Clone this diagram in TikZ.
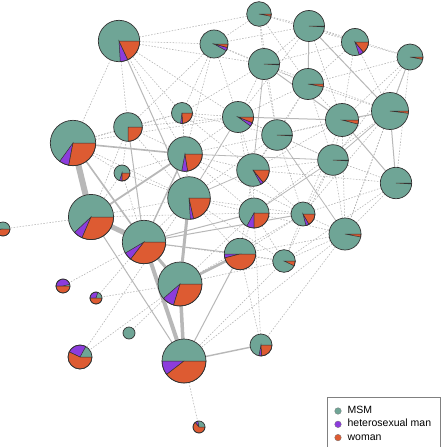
\documentclass[tikz,border=0pt]{standalone}
\usepackage{tikz}
\usepackage{xcolor}
\usepackage{fontspec}
\usetikzlibrary{positioning}
\newfontfamily\keyfont{Liberation Sans}
\definecolor{msmgreen}{RGB}{111,165,150}
\definecolor{hetpurple}{RGB}{140,60,220}
\definecolor{womanorange}{RGB}{221,91,50}
\pgfdeclarelayer{back}
\pgfsetlayers{back,main}

\begin{document}
\begin{tikzpicture}[x=1pt,y=1pt,
  pie/.style={circle,inner sep=0pt,outer sep=0pt},
  slice/.style={draw=black!80,line width=0.5pt},
  rim/.style={draw=black!80,line width=0.7pt},
  faint/.style={draw=black!30,line width=0.55pt,dash pattern=on 1.5pt off 1.5pt},
  tie/.style={draw=black!28,line width=#1pt},
  keydot/.style={circle,draw=black!55,line width=0.3pt,minimum size=6.6pt,inner sep=0pt},
  keytext/.style={inner sep=0pt,text height=1.2ex,text depth=0pt,
    font=\keyfont\fontsize{10.5}{12}\selectfont}]
  \useasboundingbox (0,0) rectangle (442,-447);
  % pies: name/x/y/radius/MSM share/heterosexual man share
  \foreach \n/\x/\y/\r/\g/\p in {
    v1/119/41/20.7/.76/.06, v2/259/14/12.3/.97/0, v3/309/26/15.5/.99/0,
    v4/214/44/14/.92/.04, v5/355/42/13.5/.80/.06, v6/410/57/13/.97/0,
    v7/264/64/15.5/.99/0, v8/308/84/15.5/.97/0, v9/390/111/18.5/.98/0,
    v10/128/127/14.3/.75/0, v11/182/113/10.5/.73/.03, v12/238/117/15.5/.90/.04,
    v13/277/135/15.3/.99/0, v14/342/120/16.5/.96/0, v15/73/143/22.7/.65/.07,
    v16/185/154/17.3/.72/.055, v17/122/173/8/.70/.05, v18/333/160/15.3/.99/0,
    v19/253/170/16.3/.83/.03, v20/189/198/21.3/.76/.025, v21/396/183/15.7/.99/0,
    v22/91/217/22.6/.62/.065, v23/303/214/12/.79/.045, v24/254/213/15/.67/.08,
    v25/345/234/16/.97/0, v26/3/229/7/.5/.02, v27/144/242/21.7/.585/.06,
    v28/240/254/15.7/.5/.04, v29/284/261/11.3/.93/0, v30/180/284/22/.614/.089,
    v31/63/286/7/.04/.46, v32/96/298/6/.2/.3, v33/129/333/6/1/0,
    v34/80/357/12/.17/.26, v35/261/345/11/.72/.04, v36/184/361/22/.5/.105,
    v37/199/427/6/.28/.08}{
    \node[pie,minimum size=\r*2pt] (\n) at (\x,-\y) {};
    \fill[msmgreen] (\n.center) circle[radius=\r pt];
    \pgfmathsetmacro\ga{360*\g}
    \pgfmathsetmacro\pa{360*(\g+\p)}
    \ifdim\p pt>0pt
      \filldraw[slice,fill=hetpurple] (\n.center) -- ++(\ga:\r pt)
        arc[start angle=\ga,end angle=\pa,radius=\r pt] -- cycle;
    \fi
    \ifdim\pa pt<359.9pt
      \filldraw[slice,fill=womanorange] (\n.center) -- ++(\pa:\r pt)
        arc[start angle=\pa,end angle=360,radius=\r pt] -- cycle;
    \fi
    \draw[rim] (\n.center) circle[radius=\r pt];
  }
  \begin{pgfonlayer}{back}
    \fill[white] (0,0) rectangle (442,-447);
    % weak ties
    \foreach \a/\b in {v1/v4, v1/v7, v1/v12, v1/v10, v1/v11, v1/v15, v1/v16, v1/v2,
      v2/v4, v2/v3, v2/v7, v2/v8, v2/v5, v2/v13, v3/v5, v3/v6, v3/v7, v3/v14,
      v3/v12, v3/v4, v4/v7, v4/v12, v4/v11, v4/v16, v4/v10, v4/v8,
      v5/v6, v5/v9, v5/v8, v5/v14, v5/v7, v6/v14, v6/v8, v6/v21, v6/v18, v6/v25,
      v7/v8, v7/v12, v7/v13, v7/v11, v7/v9, v8/v14, v8/v9, v8/v13, v8/v12,
      v8/v18, v8/v19, v9/v25, v9/v23, v9/v13, v9/v24,
      v10/v15, v10/v11, v10/v16, v10/v17, v10/v22, v10/v12, v10/v20,
      v11/v12, v11/v16, v11/v13, v11/v19, v11/v15, v11/v20,
      v12/v13, v12/v19, v12/v16, v12/v24, v12/v18,
      v13/v18, v13/v19, v13/v14, v13/v23, v13/v20, v13/v16,
      v14/v18, v14/v25, v14/v23, v14/v19, v15/v17, v15/v20, v15/v12,
      v16/v17, v16/v19, v16/v24, v16/v20, v16/v23, v17/v22, v17/v20, v17/v27,
      v18/v21, v18/v23, v18/v25, v18/v29, v18/v19,
      v19/v24, v19/v23, v19/v28, v19/v21, v20/v24, v20/v23, v20/v28, v20/v22, v20/v29,
      v21/v25, v21/v23, v21/v29, v22/v26, v22/v24,
      v23/v24, v23/v25, v23/v29, v23/v28, v23/v30,
      v24/v28, v24/v29, v24/v35, v24/v25, v25/v29, v25/v28, v25/v35, v25/v36,
      v27/v31, v27/v32, v27/v20, v27/v29, v30/v33, v30/v34, v30/v24, v30/v29, v30/v32,
      v34/v20, v36/v37, v36/v29, v28/v29, v28/v35}
      \draw[faint] (\a) -- (\b);
    % strong ties
    \foreach \a/\b/\w in {v15/v16/1.6, v15/v27/1.6, v22/v16/1.8, v22/v36/1,
      v1/v20/1, v27/v16/1.4, v10/v27/1, v28/v36/1, v36/v35/1.4, v27/v24/1,
      v27/v23/1, v27/v28/1, v3/v9/1, v3/v8/1, v9/v21/1, v14/v21/1, v12/v14/1,
      v9/v14/1, v7/v14/1, v6/v9/0.8, v16/v18/0.8, v20/v19/0.8, v24/v18/0.8,
      v18/v9/0.8, v13/v25/0.8, v7/v19/0.8, v12/v20/0.8,
      v15/v22/6, v22/v27/5, v27/v36/4, v27/v30/3, v30/v36/3.5, v30/v20/3, v30/v28/2.5}
      \draw[tie=\w] (\a) -- (\b);
  \end{pgfonlayer}
  % legend
  \node[draw=black!50,line width=0.6pt,minimum width=113pt,minimum height=60pt,
    anchor=north west] (key) at (327,-397) {};
  \node[keydot,fill=msmgreen] (k1) at (338,-411) {};
  \node[keydot,fill=hetpurple,below=6.4pt of k1] (k2) {};
  \node[keydot,fill=womanorange,below=6.4pt of k2] (k3) {};
  \node[keytext,right=6pt of k1] (t1) {MSM};
  \node[keytext,right=6pt of k2] (t2) {heterosexual man};
  \node[keytext,right=6pt of k3] (t3) {woman};
\end{tikzpicture}
\end{document}
